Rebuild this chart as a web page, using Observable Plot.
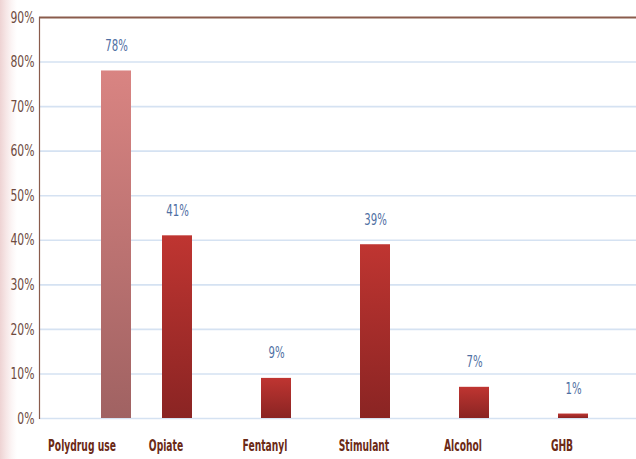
<!DOCTYPE html>
<html>
<head>
<meta charset="utf-8">
<script src="https://cdn.jsdelivr.net/npm/d3@7"></script>
<script src="https://cdn.jsdelivr.net/npm/@observablehq/plot@0.6"></script>
<style>
  html, body { margin: 0; padding: 0; background: #fff; }
  #chart {
    width: 636px; height: 459px;
    background: linear-gradient(to right, #eed3d3 0px, #f6e6e6 6px, #fcf6f6 12px, #ffffff 17px);
  }
  #chart svg { display: block; background: transparent; }
</style>
</head>
<body>
<div id="chart"></div>
<script>
// Data
const categories = ["Polydrug use", "Opiate", "Fentanyl", "Stimulant", "Alcohol", "GHB"];
const values = [0.78, 0.41, 0.09, 0.39, 0.07, 0.01];
const valueLabels = ["78%", "41%", "9%", "39%", "7%", "1%"];
// Excel-style clustered layout: category slot of each bar and its series
const clusters = [1, 1, 2, 3, 4, 5];
const seriesOf = ["Polydrug", "Single", "Single", "Single", "Single", "Single"];
const yTicks = [0, 0.1, 0.2, 0.3, 0.4, 0.5, 0.6, 0.7, 0.8, 0.9];
const yTickLabels = ["0%", "10%", "20%", "30%", "40%", "50%", "60%", "70%", "80%", "90%"];

const data = categories.map((c, i) => ({
  category: c, value: values[i], label: valueLabels[i],
  cluster: clusters[i], series: seriesOf[i]
}));

const font = "'DejaVu Sans Condensed', 'DejaVu Sans', sans-serif";
const brown = "#8a5c4c";
// within each slot the first series sits on the left, the second on the right
const isPoly = d => d.series === "Polydrug";
const isSingle = d => d.series === "Single";

const svg = Plot.plot({
  width: 636,
  height: 459,
  marginLeft: 39,
  marginRight: 0,
  marginTop: 17,
  marginBottom: 41,
  style: { fontFamily: font, background: "transparent", overflow: "visible" },
  x: { domain: [1, 2, 3, 4, 5], paddingInner: 0, paddingOuter: 0.515, align: 0.569, axis: null, label: null },
  y: { domain: [0, 0.9], axis: null },
  marks: [
    Plot.gridY(yTicks.slice(0, -1), { stroke: "#d5e2f2", strokeOpacity: 1, strokeWidth: 1.6 }),
    Plot.ruleY([0.9], { stroke: brown, strokeWidth: 2 }),
    Plot.frame({ anchor: "left", stroke: brown, strokeWidth: 1.2 }),
    Plot.axisY(yTicks, {
      tickSize: 0, tickPadding: 5, label: null,
      tickFormat: d => yTickLabels[yTicks.indexOf(d)],
      fontSize: 16, color: "#6e4a3e", className: "ticklab"
    }),
    Plot.barY(data, {
      filter: isPoly, x: "cluster", y: "value",
      insetLeft: 4, insetRight: 65, fill: "url(#gradPoly)"
    }),
    Plot.barY(data, {
      filter: isSingle, x: "cluster", y: "value",
      insetLeft: 65, insetRight: 4, fill: "url(#gradSingle)"
    }),
    Plot.text(data, {
      filter: isPoly, x: "cluster", y: "value", text: "label",
      dx: -30.5, dy: -25, fontSize: 15, fill: "#4f6fa3", className: "vallab"
    }),
    Plot.text(data, {
      filter: isSingle, x: "cluster", y: "value", text: "label",
      dx: 30.5, dy: -25, fontSize: 15, fill: "#4f6fa3", className: "vallab"
    }),
    Plot.text(data, {
      filter: isPoly, x: "cluster", y: () => 0, text: "category",
      dx: -65, dy: 28, fontSize: 15, fontWeight: "bold", fill: "#6b2a16", className: "catlab"
    }),
    Plot.text(data, {
      filter: isSingle, x: "cluster", y: () => 0, text: "category",
      dx: 19, dy: 28, fontSize: 15, fontWeight: "bold", fill: "#6b2a16", className: "catlab"
    })
  ]
});

// gradient definitions for the bar fills
const ns = "http://www.w3.org/2000/svg";
const defs = document.createElementNS(ns, "defs");
function addGrad(id, top, bottom) {
  const g = document.createElementNS(ns, "linearGradient");
  g.setAttribute("id", id);
  g.setAttribute("x1", "0"); g.setAttribute("y1", "0");
  g.setAttribute("x2", "0"); g.setAttribute("y2", "1");
  const s1 = document.createElementNS(ns, "stop");
  s1.setAttribute("offset", "0"); s1.setAttribute("stop-color", top);
  const s2 = document.createElementNS(ns, "stop");
  s2.setAttribute("offset", "1"); s2.setAttribute("stop-color", bottom);
  g.appendChild(s1); g.appendChild(s2);
  defs.appendChild(g);
}
addGrad("gradPoly", "#d98482", "#a06262");
addGrad("gradSingle", "#bf3531", "#8a2423");
svg.insertBefore(defs, svg.firstChild);

document.getElementById("chart").appendChild(svg);

// the reference typeface is tall and narrow: compress glyphs horizontally
function squeeze(selector, k) {
  svg.querySelectorAll(selector + " text").forEach(t => {
    const w = t.getComputedTextLength();
    if (w > 0) {
      t.setAttribute("textLength", (w * k).toFixed(2));
      t.setAttribute("lengthAdjust", "spacingAndGlyphs");
    }
  });
}
squeeze(".ticklab", 0.75);
squeeze(".vallab", 0.75);
squeeze(".catlab", 0.68);
</script>
</body>
</html>
